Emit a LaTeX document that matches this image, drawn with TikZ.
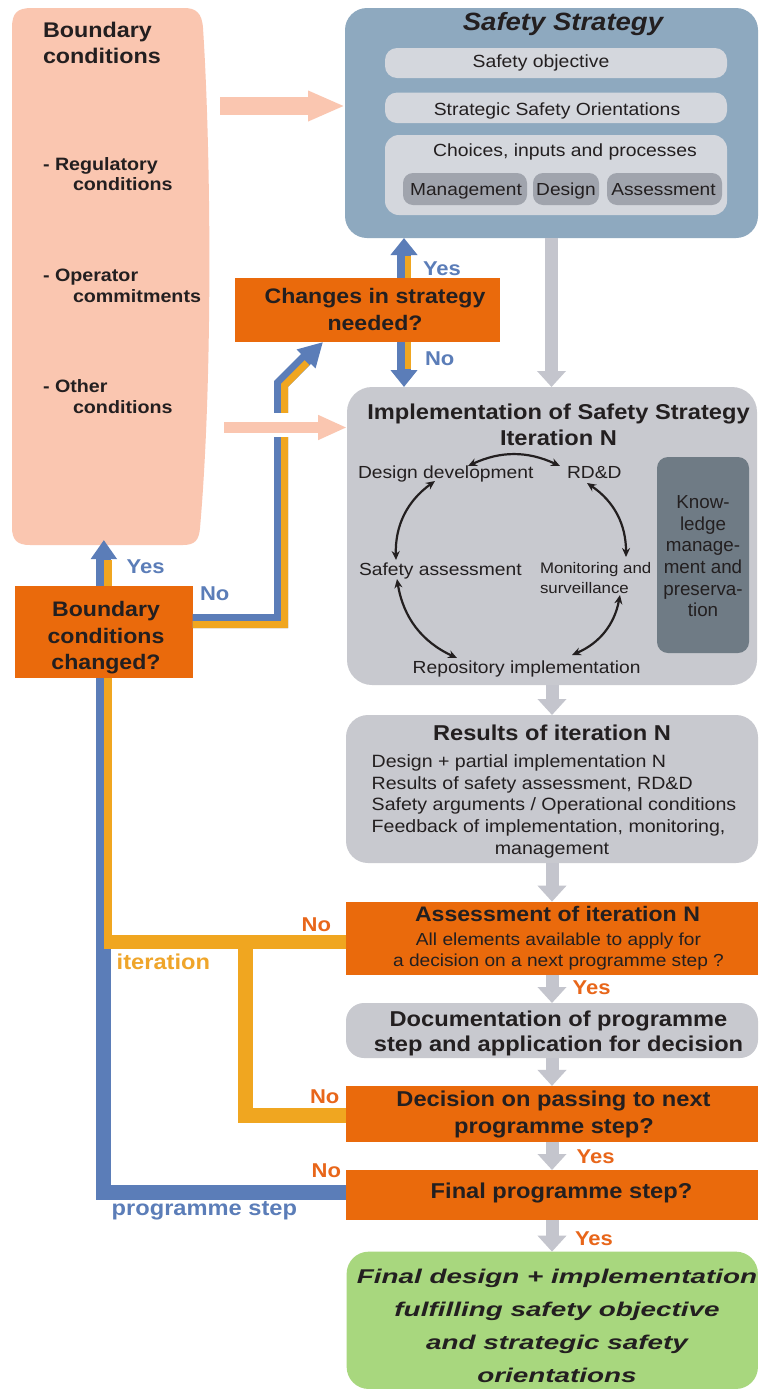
\documentclass[tikz,border=0pt]{standalone}
\usepackage{fontspec}
\setmainfont{Liberation Sans}[FakeStretch=1.1]
\newfontfamily\plainfont{Liberation Sans}
\newfontfamily\greenfont{Liberation Sans}[FakeStretch=1.4]
\usetikzlibrary{arrows.meta}
\definecolor{mysalmon}{HTML}{FAC6B0}
\definecolor{ssblue}{HTML}{8EA9BF}
\definecolor{rowgrey}{HTML}{D4D7DD}
\definecolor{subgrey}{HTML}{A0A4AD}
\definecolor{boxgrey}{HTML}{C8C9CF}
\definecolor{kngrey}{HTML}{6F7B85}
\definecolor{orng}{HTML}{EA6A0C}
\definecolor{grn}{HTML}{A8D77E}
\definecolor{blueln}{HTML}{5B7DB8}
\definecolor{yelln}{HTML}{F0A620}
\definecolor{arrgrey}{HTML}{C4C5CD}
\definecolor{txt}{HTML}{231F20}
\definecolor{lblor}{HTML}{E8661A}
\definecolor{lblbl}{HTML}{5B7DB8}
\definecolor{lblyl}{HTML}{EFA52A}
\newcommand{\myfs}[1]{\fontsize{#1}{#1}\selectfont}
\begin{document}
\begin{tikzpicture}[x=1pt,y=-1pt,
 bx/.style={rectangle, inner sep=0pt, outer sep=0pt, draw=none},
 tc/.style={inner sep=0pt, outer sep=0pt, anchor=base, text=txt},
 tl/.style={inner sep=0pt, outer sep=0pt, anchor=base west, text=txt},
 hb/.style={font={\myfs{21.5}\bfseries}},
 rg/.style={font={\myfs{17.6}}},
 ga/.style={draw=arrgrey, line width=13pt, -{Triangle[width=28pt,length=16pt]}},
 ba/.style={draw=blueln, line width=14pt, -{Triangle[width=26pt,length=17pt]}},
 cyc/.style={draw=txt, line width=2.2pt, {Stealth[length=9pt,width=8pt]}-{Stealth[length=9pt,width=8pt]}},
 lb/.style={inner sep=0pt, outer sep=0pt, anchor=base west, font={\myfs{20}\bfseries}},
 lb2/.style={inner sep=0pt, outer sep=0pt, anchor=base west, font={\myfs{21.5}\bfseries}},
]
\useasboundingbox (0,0) rectangle (759,1390);
\fill[white] (0,0) rectangle (759,1390);

% ---------- boundary conditions (salmon) ----------
\fill[mysalmon] (12,28) .. controls (12,13) and (17,8) .. (32,8) -- (184,8)
  .. controls (196,8) and (202,13) .. (203,28)
  .. controls (211,150) and (213,380) .. (200,528)
  .. controls (199,540) and (195,545) .. (183,545) -- (30,545)
  .. controls (17,545) and (12,540) .. (12,527) -- cycle;
\node[bx, minimum width=193pt, minimum height=537pt] (bc) at (108.5,276.5) {};
\node[tl, font={\myfs{21.2}\bfseries}] (bct1) at (43,37.7) {Boundary};
\node[tl, font={\myfs{21.2}\bfseries}] (bct2) at (43,63.3) {conditions};
\node[tl, font={\myfs{17.9}\bfseries}] (bci1) at (43,170) {- Regulatory};
\node[tl, font={\myfs{17.9}\bfseries}] (bci2) at (73,190.5) {conditions};
\node[tl, font={\myfs{17.9}\bfseries}] (bci3) at (43,281) {- Operator};
\node[tl, font={\myfs{17.9}\bfseries}] (bci4) at (73,302) {commitments};
\node[tl, font={\myfs{17.9}\bfseries}] (bci5) at (43,392) {- Other};
\node[tl, font={\myfs{17.9}\bfseries}] (bci6) at (73,413) {conditions};

% ---------- safety strategy ----------
\node[bx, fill=ssblue, rounded corners=22pt, minimum width=413pt, minimum height=230pt] (ss) at (551.5,123) {};
\node[tc, font={\myfs{25}\bfseries\itshape}] (sst) at (563,30.7) {Safety Strategy};
\node[bx, fill=rowgrey, rounded corners=12pt, minimum width=342pt, minimum height=30pt] (so) at (556,63) {};
\node[tc, rg] (sot) at (541,67.7) {Safety objective};
\node[bx, fill=rowgrey, rounded corners=12pt, minimum width=342pt, minimum height=30.5pt] (sso) at (556,107.8) {};
\node[tc, rg] (ssot) at (557,115) {Strategic Safety Orientations};
\node[bx, fill=rowgrey, rounded corners=14pt, minimum width=342pt, minimum height=80pt] (cip) at (556,175) {};
\node[tc, rg] (cipt) at (565,156.7) {Choices, inputs and processes};
\node[bx, fill=subgrey, rounded corners=10pt, minimum width=124pt, minimum height=32pt] (mg) at (465,189) {};
\node[bx, fill=subgrey, rounded corners=10pt, minimum width=66pt, minimum height=32pt] (dsg) at (566,189) {};
\node[bx, fill=subgrey, rounded corners=10pt, minimum width=115pt, minimum height=32pt] (asm) at (664.5,189) {};
\node[tc, font={\myfs{17.4}}] (mgt) at (466,195) {Management};
\node[tc, font={\myfs{17.4}}] (dsgt) at (566,195) {Design};
\node[tc, font={\myfs{17.4}}] (asmt) at (663.5,195) {Assessment};

% ---------- changes in strategy ----------
\node[bx, fill=orng, minimum width=265pt, minimum height=64pt] (ch) at (367.5,310) {};
\node[tc, font={\myfs{21}\bfseries}] (cht1) at (375,303.3) {Changes in strategy};
\node[tc, font={\myfs{21}\bfseries}] (cht2) at (375,330) {needed?};

% ---------- implementation ----------
\node[bx, fill=boxgrey, rounded corners=25pt, minimum width=410pt, minimum height=298pt] (impl) at (552,536) {};
\node[tc, hb] (implt1) at (558.5,419.3) {Implementation of Safety Strategy};
\node[tc, hb] (implt2) at (558.5,445) {Iteration N};
\node[tl, font={\myfs{17.5}}] (dd) at (358,478.3) {Design development};
\node[tl, font={\myfs{17.5}}] (rdd) at (567,478.3) {RD\&D};
\node[tl, font={\myfs{17.5}}] (sa) at (359,575) {Safety assessment};
\node[tl, font={\myfs{17.5}}] (ri) at (412.7,673.3) {Repository implementation};
\node[tl, font={\myfs{15.3}}] (ms1) at (540,573.3) {Monitoring and};
\node[tl, font={\myfs{15.3}}] (ms2) at (540,593.3) {surveillance};
\node[bx, fill=kngrey, rounded corners=11pt, minimum width=92pt, minimum height=196pt] (kn) at (703,555) {};
\node[tc, font={\plainfont\myfs{18.8}}] (kn1) at (703,508.3) {Know-};
\node[tc, font={\plainfont\myfs{18.8}}] (kn2) at (703,530) {ledge};
\node[tc, font={\plainfont\myfs{18.8}}] (kn3) at (703,551.7) {manage-};
\node[tc, font={\plainfont\myfs{18.8}}] (kn4) at (703,573.3) {ment and};
\node[tc, font={\plainfont\myfs{18.8}}] (kn5) at (703,595) {preserva-};
\node[tc, font={\plainfont\myfs{18.8}}] (kn6) at (703,616.7) {tion};

\coordinate (c1) at (468,466);
\coordinate (c2) at (560,466);
\coordinate (c3) at (435,481);
\coordinate (c4) at (396,560);
\coordinate (c5) at (397,579);
\coordinate (c6) at (457,658);
\coordinate (c7) at (572,655);
\coordinate (c8) at (620,595);
\coordinate (c9) at (626,557);
\coordinate (c10) at (587,483);
\draw[cyc] (c1) to[bend left=25] (c2);
\draw[cyc] (c3) to[bend right=28] (c4);
\draw[cyc] (c5) to[bend right=28] (c6);
\draw[cyc] (c7) to[bend right=28] (c8);
\draw[cyc] (c9) to[bend right=28] (c10);

% ---------- results ----------
\node[bx, fill=boxgrey, rounded corners=22pt, minimum width=412pt, minimum height=148pt] (res) at (552,789) {};
\node[tc, hb] (rest) at (552,740) {Results of iteration N};
\node[tl, font={\myfs{17.8}}] (res1) at (371.7,767.5) {Design + partial implementation N};
\node[tl, font={\myfs{17.8}}] (res2) at (371.7,789) {Results of safety assessment, RD\&D};
\node[tl, font={\myfs{17.8}}] (res3) at (371.7,810.5) {Safety arguments / Operational conditions};
\node[tl, font={\myfs{17.8}}] (res4) at (371.7,832) {Feedback of implementation, monitoring,};
\node[tc, font={\myfs{17.8}}] (res5) at (552,854) {management};

% ---------- assessment ----------
\node[bx, fill=orng, minimum width=412pt, minimum height=73.3pt] (assess) at (552,938.3) {};
\node[tc, font={\myfs{21}\bfseries}] (ast1) at (557.5,921.7) {Assessment of iteration N};
\node[tc, font={\myfs{17.4}}] (ast2) at (558.5,945) {All elements available to apply for};
\node[tc, font={\myfs{17.4}}] (ast3) at (558.5,966) {a decision on a next programme step ?};

% ---------- documentation ----------
\node[bx, fill=boxgrey, rounded corners=18pt, minimum width=412pt, minimum height=55pt] (doc) at (552,1030.5) {};
\node[tc, hb] (doct1) at (558.5,1026.7) {Documentation of programme};
\node[tc, hb] (doct2) at (558.5,1051.7) {step and application for decision};

% ---------- decision ----------
\node[bx, fill=orng, minimum width=412pt, minimum height=55.7pt] (dec) at (552,1113.8) {};
\node[tc, hb] (dect1) at (553.5,1106.7) {Decision on passing to next};
\node[tc, hb] (dect2) at (554,1133.3) {programme step?};

% ---------- final programme step ----------
\node[bx, fill=orng, minimum width=412pt, minimum height=50pt] (fin) at (552,1195) {};
\node[tc, hb] (fint) at (561.5,1198.3) {Final programme step?};

% ---------- final design ----------
\node[bx, fill=grn, rounded corners=22pt, minimum width=411.3pt, minimum height=137.3pt] (fd) at (552.3,1320.3) {};
\node[tc, font={\greenfont\myfs{19.9}\bfseries\itshape}] (fd1) at (557,1283.3) {Final design + implementation};
\node[tc, font={\greenfont\myfs{19.9}\bfseries\itshape}] (fd2) at (557,1316) {fulfilling safety objective};
\node[tc, font={\greenfont\myfs{19.9}\bfseries\itshape}] (fd3) at (557,1349) {and strategic safety};
\node[tc, font={\greenfont\myfs{19.9}\bfseries\itshape}] (fd4) at (557,1382) {orientations};

% ---------- boundary conditions changed ----------
\node[bx, fill=orng, minimum width=177.7pt, minimum height=92pt] (bcc) at (103.85,632) {};
\node[tc, font={\myfs{21}\bfseries}] (bcct1) at (106,616.7) {Boundary};
\node[tc, font={\myfs{21}\bfseries}] (bcct2) at (106,643.3) {conditions};
\node[tc, font={\myfs{21}\bfseries}] (bcct3) at (106,669) {changed?};

% ---------- grey flow arrows ----------
\draw[ga] (ss.south) -- (ss.south |- impl.north);
\draw[ga] (impl.south) -- (impl.south |- res.north);
\draw[ga] (res.south) -- (res.south |- assess.north);
\draw[ga] (assess.south) -- (assess.south |- doc.north);
\draw[ga] (doc.south) -- (doc.south |- dec.north);
\draw[ga] (dec.south) -- (dec.south |- fin.north);
\draw[ga] (fin.south) -- (fin.south |- fd.north);

% ---------- blue / yellow loops ----------
% changes in strategy: yes / no
\draw[ba] ([xshift=36.5pt]ch.north) -- ([xshift=36.5pt]ch.north |- ss.south);
\draw[draw=yelln, line width=6pt] ([xshift=40.5pt]ch.north) -- ++(0,-22);
\draw[ba] ([xshift=36.5pt]ch.south) -- ([xshift=36.5pt]ch.south |- impl.north);
\draw[draw=yelln, line width=6pt] ([xshift=40.5pt]ch.south) -- ++(0,27);

% main loop back (programme step, blue)
\draw[draw=blueln, line width=15pt] ([yshift=2.5pt]fin.west) -| (bcc.south);
% iteration (yellow)
\coordinate (jn) at (104,942);
\coordinate (jn2) at (245.8,942);
\draw[draw=yelln, line width=14pt] ([yshift=-3.7pt]assess.west) -- (jn);
\draw[draw=yelln, line width=7.5pt] ([xshift=4pt]bcc.south) -- ([xshift=4pt]bcc.south |- jn);
\draw[draw=yelln, line width=15pt] ([yshift=-2pt]dec.west) -| (jn2);

% boundary conditions changed: yes
\draw[draw=blueln, line width=15pt, -{Triangle[width=25pt,length=19pt]}] (bcc.north) -- ([yshift=5pt]bcc.north |- bc.south);
\draw[draw=yelln, line width=7.5pt] ([xshift=4pt]bcc.north) -- ++(0,-26);

% boundary conditions changed: no -> changes in strategy
\coordinate (bend) at (281,384);
\coordinate (yb1) at (284.5,385.4);
\coordinate (ye) at (307,362.7);
\draw[draw=blueln, line width=14pt, -{Triangle[width=25pt,length=24pt]}] ([yshift=11pt]bcc.east) -| (bend) -- ([xshift=-44.5pt]ch.south);
\draw[draw=yelln, line width=7pt] ([yshift=7.5pt]bcc.east) -| (yb1) -- (ye);

% ---------- salmon arrows ----------
\coordinate (s1) at (220,106);
\draw[draw=mysalmon, line width=18pt, -{Triangle[width=28pt,length=37pt]}] (s1) -- (s1 -| ss.west);
\fill[white] (268,413) rectangle (294,437);
\coordinate (s2) at (224,427.5);
\draw[draw=mysalmon, line width=11.5pt, -{Triangle[width=23pt,length=29pt]}] (s2) -- (s2 -| impl.west);

% ---------- labels ----------
\node[lb, text=lblbl] (ly1) at (423,275) {Yes};
\node[lb, text=lblbl] (ln1) at (425,365) {No};
\node[lb, text=lblbl] (ly2) at (126.7,573.3) {Yes};
\node[lb, text=lblbl] (ln2) at (200,600) {No};
\node[lb, text=lblor] (ln3) at (301.7,931.7) {No};
\node[lb2, text=lblyl] (lit) at (116.7,969.5) {iteration};
\node[lb, text=lblor] (ln4) at (310,1103.3) {No};
\node[lb, text=lblor] (ln5) at (311.7,1177.7) {No};
\node[lb2, text=lblbl] (lps) at (111.7,1215) {programme step};
\node[lb, text=lblor] (ly3) at (572.7,994.3) {Yes};
\node[lb, text=lblor] (ly4) at (576.7,1163.3) {Yes};
\node[lb, text=lblor] (ly5) at (575,1245) {Yes};
\end{tikzpicture}
\end{document}
